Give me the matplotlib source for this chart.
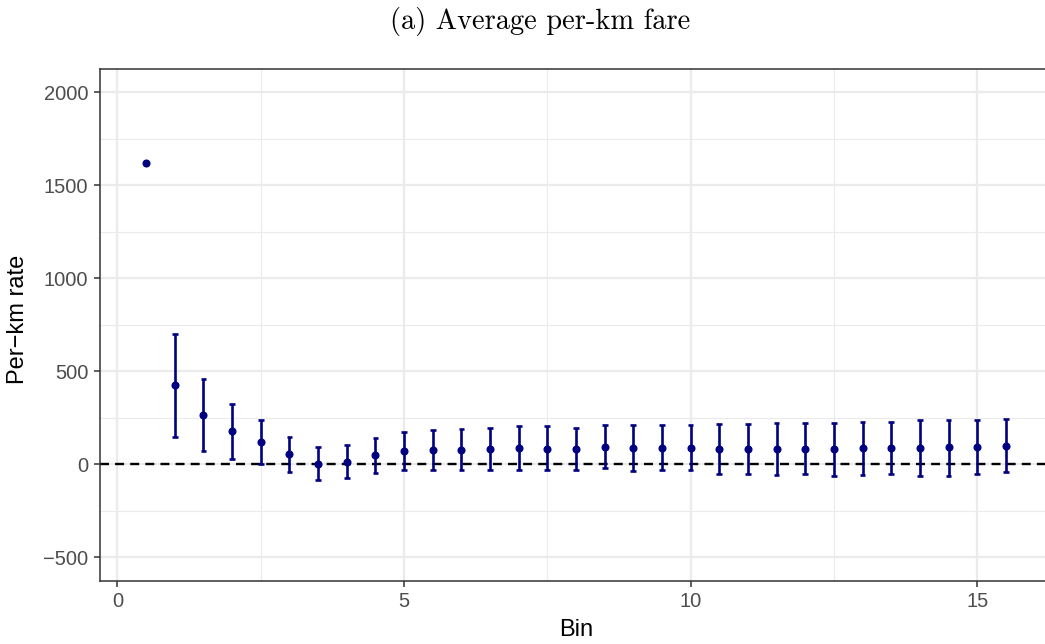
import matplotlib
matplotlib.use("Agg")
import matplotlib.pyplot as plt
import numpy as np

bins = [0.5, 1.0, 1.5, 2.0, 2.5, 3.0, 3.5, 4.0, 4.5, 5.0, 5.5, 6.0, 6.5, 7.0, 7.5, 8.0,
        8.5, 9.0, 9.5, 10.0, 10.5, 11.0, 11.5, 12.0, 12.5, 13.0, 13.5, 14.0, 14.5, 15.0, 15.5]
estimate = [1618, 425, 263, 177, 122, 54, 4, 14, 50, 71, 75, 79, 81, 86, 84, 82,
            93, 88, 90, 90, 82, 82, 82, 82, 82, 86, 86, 86, 91, 91, 99]
upper = [None, 699, 457, 324, 240, 147, 95, 106, 143, 174, 183, 188, 194, 203, 203, 197,
         211, 211, 211, 211, 217, 219, 220, 220, 224, 229, 226, 237, 240, 240, 244]
lower = [None, 147, 70, 30, 4, -41, -86, -75, -45, -32, -32, -32, -32, -29, -32, -30,
         -22, -38, -32, -29, -50, -54, -57, -54, -61, -57, -54, -65, -61, -54, -39]

title = "(a) Average per-km fare"
xlabel = "Bin"
ylabel = "Per\u2212km rate"
xticks = [0, 5, 10, 15]
yticks = [-500, 0, 500, 1000, 1500, 2000]

W, H = 1045, 644
fig = plt.figure(figsize=(W / 100, H / 100), dpi=100)
left_px, right_px, top_px, bot_px = 100, 1052, 69, 580.5
ax = fig.add_axes([left_px / W, 1 - bot_px / H, (right_px - left_px) / W, (bot_px - top_px) / H])

navy = "#000080"
ax.set_xlim(-0.305, 16.305)
ax.set_ylim(-625, 2125)

# grid
for v in [-250, 250, 750, 1250, 1750]:
    ax.axhline(v, color="#EBEBEB", lw=0.8, zorder=0)
for v in yticks:
    ax.axhline(v, color="#EBEBEB", lw=1.6, zorder=0)
for v in [2.5, 7.5, 12.5]:
    ax.axvline(v, color="#EBEBEB", lw=0.8, zorder=0)
for v in xticks:
    ax.axvline(v, color="#EBEBEB", lw=1.6, zorder=0)

ax.axhline(0, color="black", lw=1.7, ls=(0, (3.8, 2.6)), zorder=2)

eb_x = [b for b, u in zip(bins, upper) if u is not None]
eb_lo = [l for l, u in zip(lower, upper) if u is not None]
eb_hi = [u for u in upper if u is not None]
ax.vlines(eb_x, eb_lo, eb_hi, color=navy, lw=1.9, zorder=3)
ax.hlines(eb_hi, [x - 0.05 for x in eb_x], [x + 0.05 for x in eb_x], color=navy, lw=1.9, zorder=3)
ax.hlines(eb_lo, [x - 0.05 for x in eb_x], [x + 0.05 for x in eb_x], color=navy, lw=1.9, zorder=3)
ax.plot(bins, estimate, "o", color=navy, ms=4.8, zorder=4, linestyle="none")

ax.set_xticks(xticks)
ax.set_yticks(yticks)
ax.set_yticklabels([str(t).replace("-", "\u2212") for t in yticks])
for s in ax.spines.values():
    s.set_color("#333333")
    s.set_linewidth(1.1)
ax.tick_params(axis="both", colors="#333333", length=4.3, width=1.1,
               labelsize=14.5, labelcolor="#4D4D4D", pad=4)
for lab in ax.get_xticklabels() + ax.get_yticklabels():
    lab.set_fontfamily("Liberation Sans")

fig.text(576.5 / W, 1 - 636 / H, xlabel, ha="center", va="baseline", fontsize=17,
         family="Liberation Sans")
fig.text(18.5 / W, 1 - 319 / H, ylabel, ha="center", va="center", rotation=90,
         fontsize=17, family="Liberation Sans")

fig.text(540 / W, 1 - 22 / H, title, ha="center", va="center", fontsize=20.5,
         family=["cmr10", "DejaVu Serif"])

fig.savefig("out.png", dpi=100)
